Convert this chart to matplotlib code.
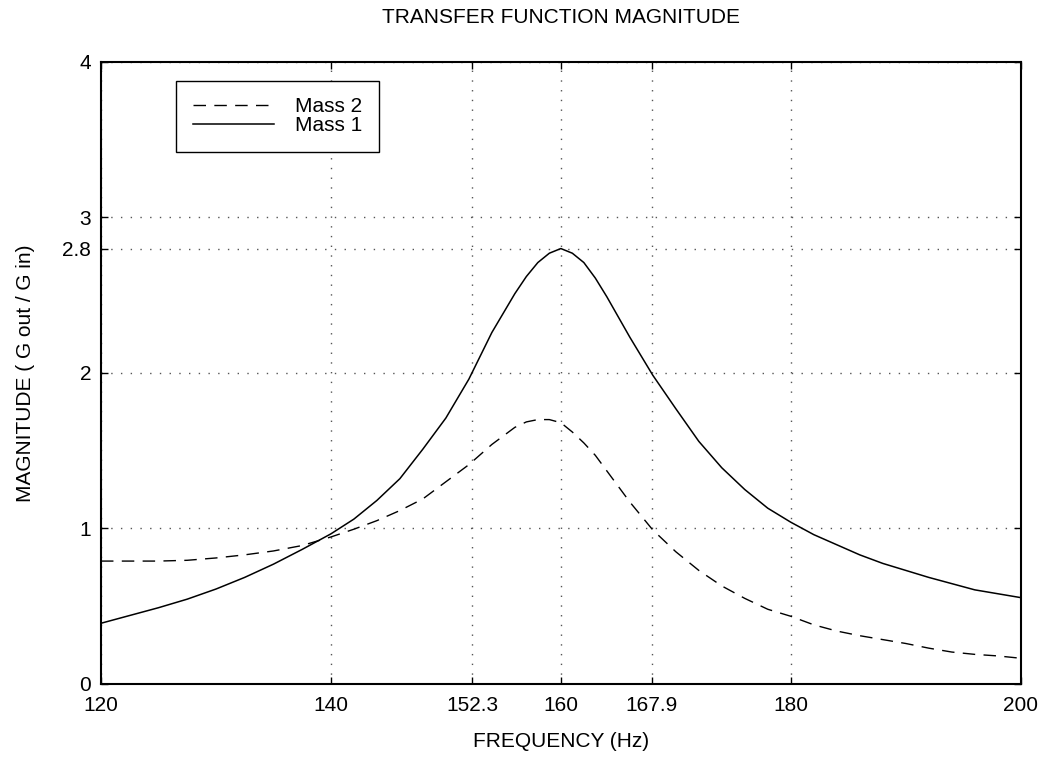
import matplotlib.pyplot as plt

plt.rcParams['font.family'] = ['Liberation Sans', 'DejaVu Sans']

# Mass 1 (solid)
freq1 = [120, 122.5, 125, 127.5, 130, 132.5, 135, 137.5, 140, 142, 144, 146, 148,
         150, 152, 154, 156, 157, 158, 159, 160, 161, 162, 163, 164, 166, 168, 170, 172, 174,
         176, 178, 180, 182, 184, 186, 188, 190, 192, 194, 196, 198, 200]
mass1 = [0.39, 0.44, 0.49, 0.545, 0.61, 0.685, 0.77, 0.865, 0.965, 1.06, 1.18, 1.32, 1.51,
         1.71, 1.96, 2.26, 2.51, 2.62, 2.71, 2.77, 2.80, 2.77, 2.71, 2.61, 2.49, 2.23, 1.985, 1.77, 1.56, 1.39,
         1.25, 1.13, 1.04, 0.96, 0.895, 0.83, 0.775, 0.73, 0.685, 0.645, 0.605, 0.58, 0.555]

# Mass 2 (dashed)
freq2 = [120, 122.5, 125, 127.5, 130, 132.5, 135, 137.5, 140, 142, 144, 146, 148,
         150, 152, 154, 156, 157, 158, 159, 160, 161, 162, 163, 164, 166, 168, 170,
         172, 174, 176, 178, 180, 182, 184, 186, 188, 190, 192, 194, 196, 198, 200]
mass2 = [0.79, 0.79, 0.79, 0.795, 0.81, 0.83, 0.855, 0.89, 0.945, 0.995, 1.05, 1.115, 1.19,
         1.30, 1.41, 1.54, 1.65, 1.685, 1.70, 1.70, 1.68, 1.62, 1.55, 1.47, 1.37, 1.17, 0.99, 0.85,
         0.73, 0.63, 0.55, 0.48, 0.435, 0.38, 0.34, 0.31, 0.285, 0.26, 0.23, 0.205, 0.19, 0.18, 0.165]

xticks = [120, 140, 152.3, 160, 167.9, 180, 200]
xticklabels = ['120', '140', '152.3', '160', '167.9', '180', '200']
yticks = [0, 1, 2, 2.8, 3, 4]
yticklabels = ['0', '1', '2', '2.8', '3', '4']

fig = plt.figure(figsize=(10.44, 7.65), dpi=100)
ax = fig.add_axes([0.0967, 0.106, 0.881, 0.813])

ax.plot(freq2, mass2, color='black', lw=1.0, linestyle=(0, (9, 6)), label='Mass 2')
ax.plot(freq1, mass1, color='black', lw=1.1, label='Mass 1')

ax.set_xlim(120, 200)
ax.set_ylim(0, 4)
ax.set_xticks(xticks)
ax.set_xticklabels(xticklabels)
ax.set_yticks(yticks)
ax.set_yticklabels(yticklabels)
ax.tick_params(direction='in', top=True, right=True, length=5, width=1,
               labelsize=15, colors='black')
ax.tick_params(axis='x', pad=9)
ax.tick_params(axis='y', pad=7)
ax.grid(True, color='#555555', linestyle=(0, (1, 6)), linewidth=1.0)
for s in ax.spines.values():
    s.set_linewidth(1.5)

ax.set_title('TRANSFER FUNCTION MAGNITUDE', fontsize=15, pad=28)
ax.set_xlabel('FREQUENCY (Hz)', fontsize=15, labelpad=12)
ax.set_ylabel('MAGNITUDE ( G out / G in)', fontsize=15, labelpad=20)

leg = ax.legend(loc='upper left', bbox_to_anchor=(0.082, 0.97), fontsize=15,
                fancybox=False, frameon=True, edgecolor='black', framealpha=1,
                handlelength=3.9, borderpad=0.8, labelspacing=0.0, handletextpad=1.0,
                borderaxespad=0)
leg.get_frame().set_linewidth(1.0)

fig.savefig('out.png', dpi=100)
